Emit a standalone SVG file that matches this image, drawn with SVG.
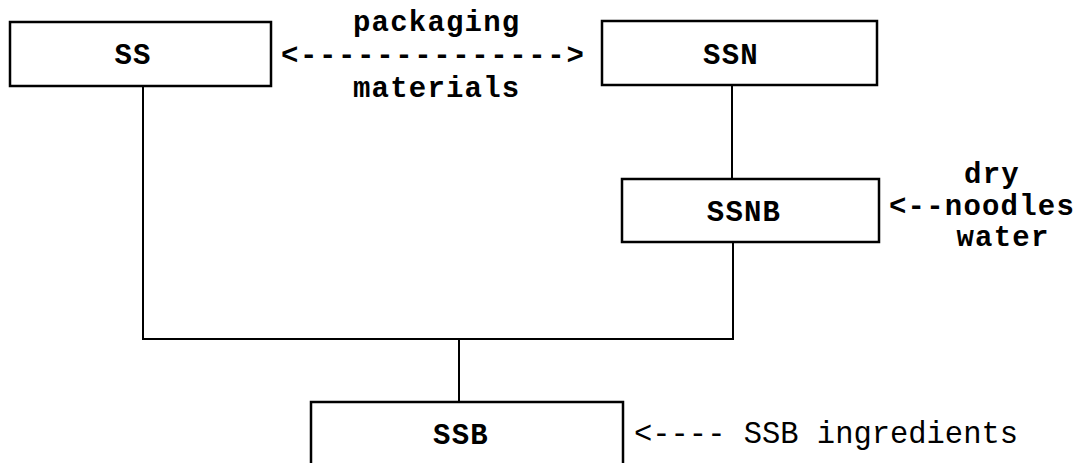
<svg xmlns="http://www.w3.org/2000/svg" width="1082" height="463" viewBox="0 0 1082 463">
  <style>
    .box { fill: #ffffff; stroke: #000000; stroke-width: 2.5; }
    .wire { fill: none; stroke: #000000; stroke-width: 2; }
    .lbl { font-family: "Liberation Mono", "Courier New", monospace; font-weight: bold; font-size: 29px; letter-spacing: 1.2px; fill: #000000; }
    .mid { text-anchor: middle; }
    .plain { font-family: "Liberation Mono", "Courier New", monospace; font-weight: normal; font-size: 28px; fill: #000000; }
  </style>
  <rect width="1082" height="463" fill="#ffffff"/>

  <!-- connectors -->
  <g id="connectors">
    <path class="wire" d="M143,86 V339 H734"/>
    <path class="wire" d="M732,85 V179"/>
    <path class="wire" d="M733,242 V339"/>
    <path class="wire" d="M459,339 V402"/>
  </g>

  <!-- process blocks -->
  <g id="node-ss">
    <rect class="box" x="10" y="22" width="261" height="64"/>
    <text class="lbl mid" x="133" y="64">SS</text>
  </g>
  <g id="node-ssn">
    <rect class="box" x="602" y="21" width="275" height="64"/>
    <text class="lbl mid" x="731" y="64">SSN</text>
  </g>
  <g id="node-ssnb">
    <rect class="box" x="622" y="179" width="257" height="63"/>
    <text class="lbl mid" x="744" y="221">SSNB</text>
  </g>
  <g id="node-ssb">
    <rect class="box" x="311" y="402" width="312" height="80"/>
    <text class="lbl mid" x="461" y="444">SSB</text>
  </g>

  <!-- material exchange between SS and SSN -->
  <g id="label-packaging">
    <text class="lbl" x="353" y="31">packaging</text>
    <text class="lbl" x="281" y="64" textLength="304" lengthAdjust="spacing">&lt;--------------&gt;</text>
    <text class="lbl" x="353" y="97">materials</text>
  </g>

  <!-- inputs to SSNB -->
  <g id="label-noodles">
    <text class="lbl mid" x="992" y="183">dry</text>
    <text class="lbl" x="889" y="215">&lt;--noodles</text>
    <text class="lbl mid" x="1003" y="246">water</text>
  </g>

  <!-- inputs to SSB -->
  <g id="label-ingredients">
    <text class="plain" transform="translate(634,443) scale(1,1.15)" x="0" y="0" textLength="384" lengthAdjust="spacingAndGlyphs">&lt;---- SSB ingredients</text>
  </g>
</svg>
